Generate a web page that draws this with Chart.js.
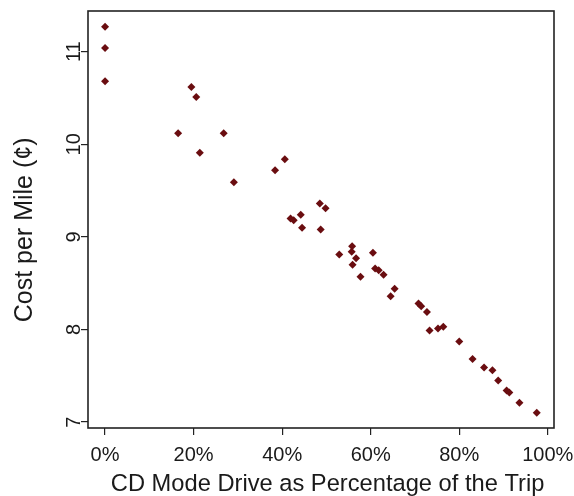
<!DOCTYPE html>
<html>
<head>
<meta charset="utf-8">
<script src="https://cdn.jsdelivr.net/npm/chart.js@4.4.1/dist/chart.umd.min.js"></script>
<style>
  html, body { margin: 0; padding: 0; background: #fff; }
  #wrap { width: 574px; height: 496px; }
</style>
</head>
<body>
<div id="wrap"><canvas id="myChart" width="574" height="496"></canvas></div>
<script>
// share of the trip driven in CD mode (%), and the matching cost per mile (cents)
const cdShare = [
  0, 0, 0, 19.5, 20.6, 16.5, 26.8, 21.4, 38.4, 29.1,
  40.6, 48.5, 49.8, 44.2, 41.9, 42.6, 44.5, 48.7, 55.8, 55.7,
  52.9, 56.7, 60.5, 55.9, 57.7, 61.0, 61.8, 62.9, 65.4, 64.5,
  70.8, 71.4, 72.7, 73.3, 75.2, 76.4, 80.0, 83.0, 85.6, 87.5,
  88.8, 90.7, 91.3, 93.6, 97.5,
];
const costPerMile = [
  11.27, 11.04, 10.68, 10.62, 10.51, 10.12, 10.12, 9.91, 9.72, 9.59,
  9.84, 9.36, 9.31, 9.24, 9.2, 9.18, 9.1, 9.08, 8.9, 8.84,
  8.81, 8.77, 8.83, 8.7, 8.57, 8.66, 8.64, 8.59, 8.44, 8.36,
  8.28, 8.25, 8.19, 7.99, 8.01, 8.03, 7.87, 7.68, 7.59, 7.56,
  7.45, 7.34, 7.32, 7.21, 7.1,
];
const xTicks = [0, 20, 40, 60, 80, 100];
const yTicks = [7, 8, 9, 10, 11];

const ink = "#1a1a1a";
const fontFamily = "'Liberation Sans', Arial, Helvetica, sans-serif";

// box round the plot area
const frame = {
  id: "frame",
  afterDraw(chart) {
    const { ctx, chartArea: a } = chart;
    ctx.save();
    ctx.strokeStyle = "#222";
    ctx.lineWidth = 1.6;
    ctx.strokeRect(a.left, a.top, a.right - a.left, a.bottom - a.top);
    ctx.restore();
  },
};

const ctx = document.getElementById("myChart").getContext("2d");

new Chart(ctx, {
  type: "scatter",
  data: {
    datasets: [
      {
        data: cdShare.map((x, i) => ({ x, y: costPerMile[i] })),
        pointStyle: "rectRot",
        pointRadius: 4,
        pointBorderWidth: 0,
        backgroundColor: "#6a0d10",
        borderColor: "#6a0d10",
      },
    ],
  },
  options: {
    responsive: false,
    animation: false,
    layout: { padding: { top: 11, right: 20, left: 0, bottom: 0 } },
    plugins: { legend: { display: false }, tooltip: { enabled: false } },
    scales: {
      x: {
        type: "linear",
        min: -3.85,
        max: 101.4,
        afterBuildTicks: (scale) => {
          scale.ticks = xTicks.map((v) => ({ value: v }));
        },
        afterFit: (scale) => {
          scale.height = 68;
          scale.paddingLeft = 0;
          scale.paddingRight = 0;
        },
        border: { display: false },
        grid: {
          drawOnChartArea: false,
          drawTicks: true,
          tickLength: 7,
          color: "#222",
          lineWidth: 1.2,
        },
        ticks: {
          color: ink,
          padding: 8,
          maxRotation: 0,
          autoSkip: false,
          font: { family: fontFamily, size: 20 },
          callback: (v) => v + "%",
        },
        title: {
          display: true,
          // leading spaces nudge the centred title a little to the right
          text: "  CD Mode Drive as Percentage of the Trip",
          color: ink,
          padding: { top: 0, bottom: 0 },
          font: { family: fontFamily, size: 23.7, lineHeight: 1 },
        },
      },
      y: {
        type: "linear",
        min: 6.936,
        max: 11.44,
        afterBuildTicks: (scale) => {
          scale.ticks = yTicks.map((v) => ({ value: v }));
        },
        afterFit: (scale) => {
          scale.width = 88;
          scale.paddingTop = 0;
          scale.paddingBottom = 0;
        },
        border: { display: false },
        grid: {
          drawOnChartArea: false,
          drawTicks: true,
          tickLength: 7,
          color: "#222",
          lineWidth: 1.2,
        },
        ticks: {
          color: ink,
          padding: -5,
          minRotation: 90,
          maxRotation: 90,
          crossAlign: "center",
          autoSkip: false,
          font: { family: fontFamily, size: 20 },
        },
        title: {
          display: true,
          text: "Cost per Mile (¢)   ",
          color: ink,
          padding: { top: 13, bottom: 0 },
          font: { family: fontFamily, size: 25, lineHeight: 1 },
        },
      },
    },
  },
  plugins: [frame],
});
</script>
</body>
</html>
